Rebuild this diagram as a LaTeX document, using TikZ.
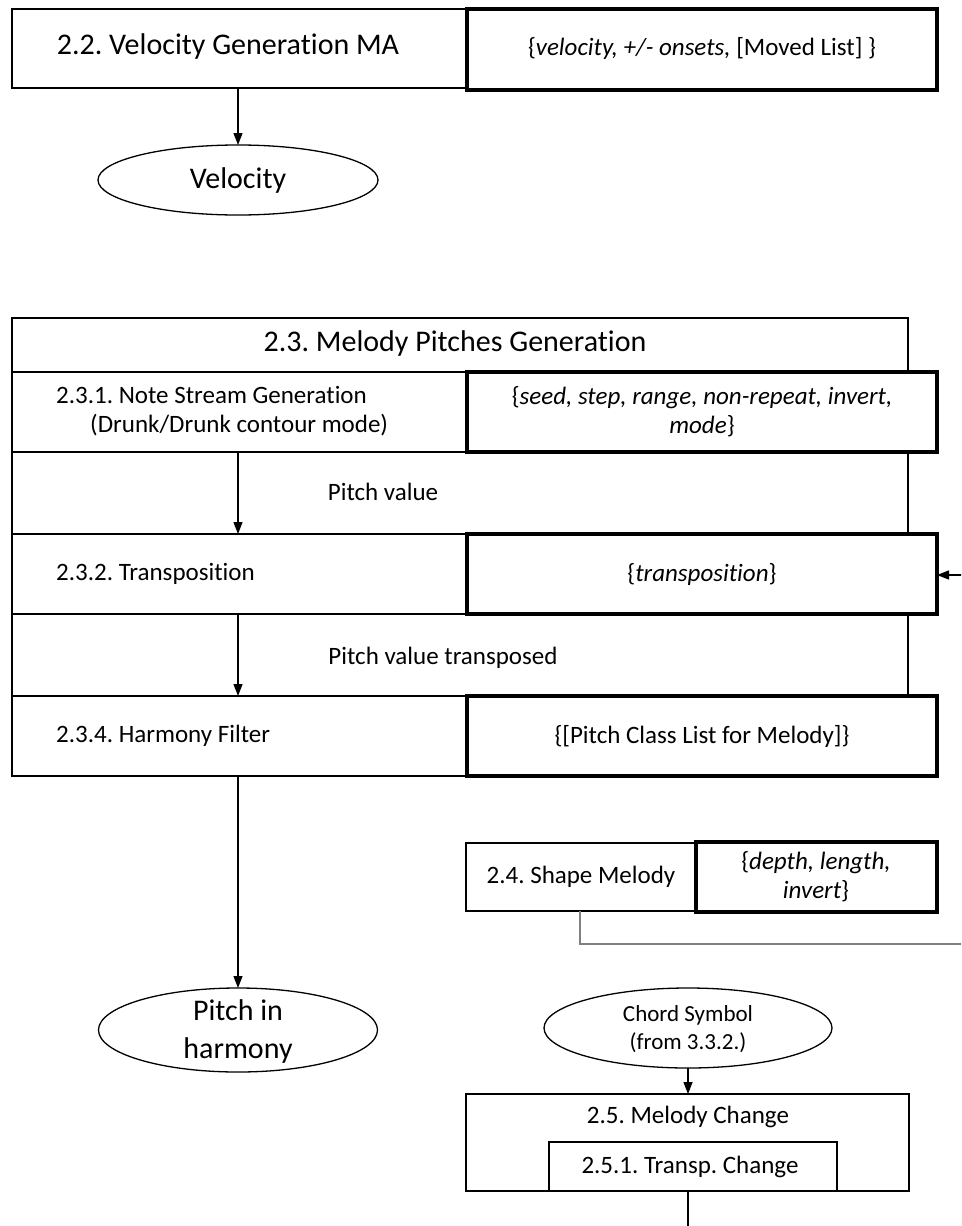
\documentclass[tikz,border=0pt]{standalone}
\usepackage{fontspec}
\setmainfont{Carlito}[Ligatures=NoCommon]
\frenchspacing
\usetikzlibrary{arrows.meta,shapes.geometric}
\begin{document}
\begin{tikzpicture}[x=1pt,y=-1pt,
  box/.style={draw,line width=1.3pt,fill=white,rectangle,inner sep=0pt,outer sep=0pt},
  parbox/.style={draw,line width=4pt,fill=white,rectangle,inner sep=0pt,outer sep=0pt},
  oval/.style={draw,line width=1.3pt,fill=white,ellipse,inner sep=0pt,outer sep=0pt},
  big/.style={font=\fontsize{30pt}{38pt}\selectfont,inner sep=0pt},
  txt/.style={font=\fontsize{25pt}{29pt}\selectfont,inner sep=0pt},
  small/.style={font=\fontsize{23pt}{28pt}\selectfont,inner sep=0pt},
  flow/.style={line width=1.3pt,-{Triangle[length=12pt,width=9pt]}},
  link/.style={line width=1.3pt},
  feed/.style={line width=2pt,draw=black!50}]
\useasboundingbox (0,0) rectangle (961,1226);
\clip (0,0) rectangle (961,1226);

% --- 2.2 Velocity generation
\node[box,minimum width=455pt,minimum height=79pt] (vgen) at (239.5,48.5) {};
\node[parbox,minimum width=470pt,minimum height=81pt] (vpar) at (702,49) {};
\node[big] (vgentxt) at (228,47) {2.2. Velocity Generation MA};
\node[txt] (vpartxt) at (702,48) {\{\textit{velocity, +/- onsets,} [Moved List] \}};
\node[oval,minimum width=280pt,minimum height=70pt] (vel) at (238,180) {};
\node[big] (veltxt) at (238,180) {Velocity};
\draw[flow] (vel.north |- vgen.south) -- (vel.north);

% --- 2.3 Melody pitches generation
\node[box,minimum width=896pt,minimum height=54pt] (mtitle) at (460,345) {};
\node[big] (mtitletxt) at (455,343) {2.3. Melody Pitches Generation};

\node[box,minimum width=896pt,minimum height=82pt] (gapa) at (460,493) {};
\node[box,minimum width=896pt,minimum height=82pt] (gapb) at (460,655) {};
\node[txt] (gapatxt) at (383,492) {Pitch value};
\node[txt] (gapbtxt) at (443,658) {Pitch value transposed};

\node[box,minimum width=455pt,minimum height=80pt] (nsg) at (239.5,412) {};
\node[parbox,minimum width=470pt,minimum height=80pt] (nsgpar) at (702,412) {};
\node[txt,anchor=west,align=left] (nsgtxt) at (56,411)
  {2.3.1. Note Stream Generation\\\hspace*{34pt}(Drunk/Drunk contour mode)};
\node[txt,align=center] (nsgpartxt) at (702,412)
  {\{\textit{seed, step, range, non-repeat, invert,}\\\textit{mode}\}};

\node[box,minimum width=455pt,minimum height=80pt] (trn) at (239.5,574) {};
\node[parbox,minimum width=470pt,minimum height=80pt] (trnpar) at (702,574) {};
\node[txt,anchor=west] (trntxt) at (56,574) {2.3.2. Transposition};
\node[txt] (trnpartxt) at (702,574) {\{\textit{transposition}\}};

\node[box,minimum width=455pt,minimum height=80pt] (hf) at (239.5,736) {};
\node[parbox,minimum width=470pt,minimum height=80pt] (hfpar) at (702,736) {};
\node[txt,anchor=west] (hftxt) at (56,736) {2.3.4. Harmony Filter};
\node[txt] (hfpartxt) at (702,736) {\{[Pitch Class List for Melody]\}};

\node[oval,minimum width=279pt,minimum height=84pt] (pih) at (238,1030) {};
\node[big,align=center] (pihtxt) at (238,1031) {Pitch in\\harmony};

\draw[flow] (238,0 |- nsg.south) -- (238,0 |- trn.north);
\draw[flow] (238,0 |- trn.south) -- (238,0 |- hf.north);
\draw[flow] (pih.north |- hf.south) -- (pih.north);

% --- 2.4 Shape melody, feeding the transposition amount
\node[box,minimum width=230pt,minimum height=68pt] (shp) at (581,877) {};
\node[parbox,minimum width=241pt,minimum height=70pt] (shppar) at (816.5,877) {};
\node[txt] (shptxt) at (581,877) {2.4. Shape Melody};
\node[txt,align=center] (shppartxt) at (816,877) {\{\textit{depth, length,}\\\textit{invert}\}};
\coordinate (feedb) at (975,944);
\coordinate (feedt) at (975,575);
\draw[feed] (580,0 |- shp.south) |- (feedb) -- (feedt);
\draw[flow] (feedt) -- (trnpar.east |- feedt);

% --- 2.5 Melody change
\node[oval,minimum width=288pt,minimum height=80pt] (chd) at (688,1028) {};
\node[small,align=center] (chdtxt) at (688,1029) {Chord Symbol\\(from 3.3.2.)};
\node[box,minimum width=443pt,minimum height=97pt] (mch) at (687.5,1142.5) {};
\node[txt] (mchtxt) at (688,1117) {2.5. Melody Change};
\node[box,minimum width=288pt,minimum height=49pt] (tch) at (693,1166.5) {};
\node[txt] (tchtxt) at (690,1167) {2.5.1. Transp. Change};
\coordinate (mchout) at (688,1240);
\draw[flow] (chd.south) -- (chd.south |- mch.north);
\draw[link] (chd.south |- mch.south) -- (mchout);
\end{tikzpicture}
\end{document}
